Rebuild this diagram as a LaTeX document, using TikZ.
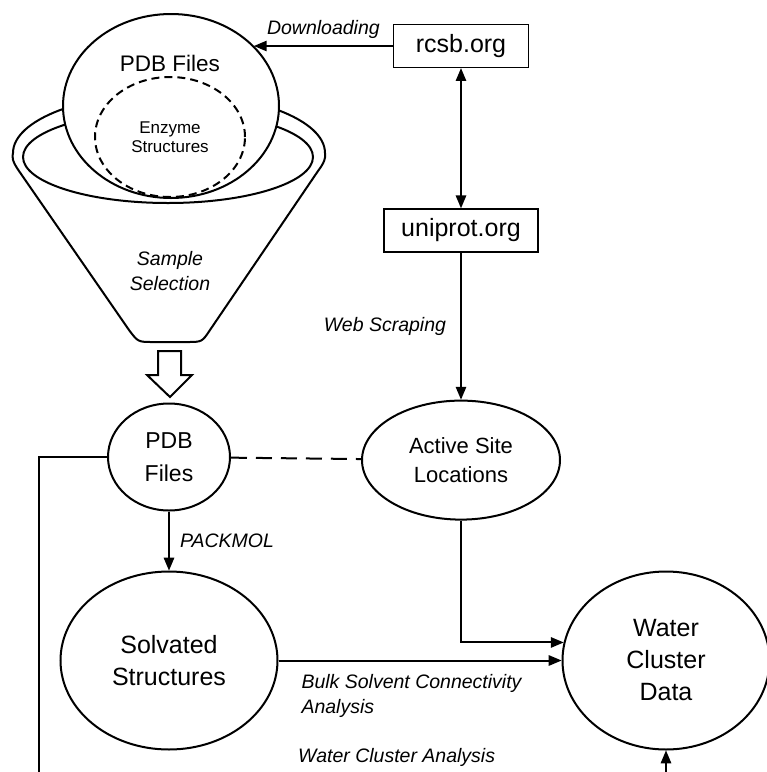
\documentclass[tikz,border=0pt]{standalone}
\usepackage{fontspec}
\setmainfont{Liberation Sans}
\usepackage{tikz}
\usetikzlibrary{positioning, calc, arrows, shapes}
\tikzset{>=triangle 45}
\tikzset{flow/.style={line width=2pt}}
\tikzset{site/.style={draw, rectangle, line width=1.4pt, inner sep=0pt, minimum height=43pt,
    font=\fontsize{25}{30}\selectfont}}
\tikzset{blob/.style={draw, ellipse, line width=2pt, inner sep=0pt, align=center,
    font=\fontsize{25}{32}\selectfont}}
\tikzset{how/.style={inner sep=0pt, align=left, font=\fontsize{19.5}{25}\selectfont\itshape}}

\begin{document}
\begin{tikzpicture}[x=1pt, y=-1pt]
    \useasboundingbox (0,0) rectangle (767,772);

    % funnel with the pool of files
    \draw[flow, fill=white] (19,171) .. controls (12,161) and (12,157) .. (13,153)
      arc[start angle=180, end angle=0, x radius=156pt, y radius=60pt]
      .. controls (326,158) and (324,163) .. (318,171)
      -- (210,330) .. controls (202,342) .. (187,342)
      -- (153,342) .. controls (138,342) .. (129,330) -- cycle;
    \draw[flow] (168,157) ellipse [x radius=145pt, y radius=46pt];
    \node[blob, fill=white, minimum width=216pt, minimum height=184pt] (pool) at (171,106) {};
    \node[font=\fontsize{22.5}{26}\selectfont] (pool-txt) at (170,63) {PDB Files};
    \node[blob, dash pattern=on 8pt off 5pt, minimum width=150pt, minimum height=120pt,
      font=\fontsize{17}{19.5}\selectfont] (enz) at (170,137) {Enzyme\\Structures};
    \node[how, align=center] (sel) at (170,271) {Sample\\Selection};
    \draw[flow, line join=miter] (158,351) -- (181,351) -- (181,375) -- (192,375)
      -- (170,397) -- (147,375) -- (158,375) -- cycle;

    \node[site, minimum width=135pt] (rcsb) at (461,46) {rcsb.org};
    \node[site, minimum width=154pt, below=140pt of rcsb] (uniprot) {uniprot.org};
    \node[blob, minimum width=198pt, minimum height=119pt, below=147pt of uniprot,
      font=\fontsize{22}{29}\selectfont] (sites) {Active Site\\Locations};

    \node[blob, minimum width=122pt, minimum height=107pt,
      font=\fontsize{23}{33}\selectfont] (pdbs) at (169,457) {PDB\\Files};
    \node[blob, minimum width=217pt, minimum height=178pt, below=59pt of pdbs] (solv)
      {Solvated\\Structures};
    \node[blob, minimum width=207pt, minimum height=178pt, right=283pt of solv] (water)
      {Water\\Cluster\\Data};

    \coordinate (cut-l) at (39,772);
    \coordinate (cut-r) at (water.south |- cut-l);

    \draw[flow, ->] (rcsb.west) to node[how, above=6pt] {Downloading} (rcsb.west -| pool.36);
    \draw[flow, <->] (rcsb) to (uniprot);
    \draw[flow, ->] (uniprot) to node[how, left=14pt] {Web Scraping} (sites);
    \draw[flow, dash pattern=on 16pt off 9pt] (pdbs) to (sites);
    \draw[flow, ->] (pdbs) to node[how, right=10pt] {PACKMOL} (solv);
    \draw[flow, ->] (sites.south) |- (water.170.5);
    \draw[flow, ->] (solv) to node[how, pos=0, below right=13pt and 22pt]
      {Bulk Solvent Connectivity\\Analysis} (water);
    \node[how, anchor=west] (wca) at (298,757) {Water Cluster Analysis};
    \draw[flow] (pdbs.west) -| (cut-l);
    \draw[flow, ->] (cut-r) to (water.south);
\end{tikzpicture}
\end{document}
